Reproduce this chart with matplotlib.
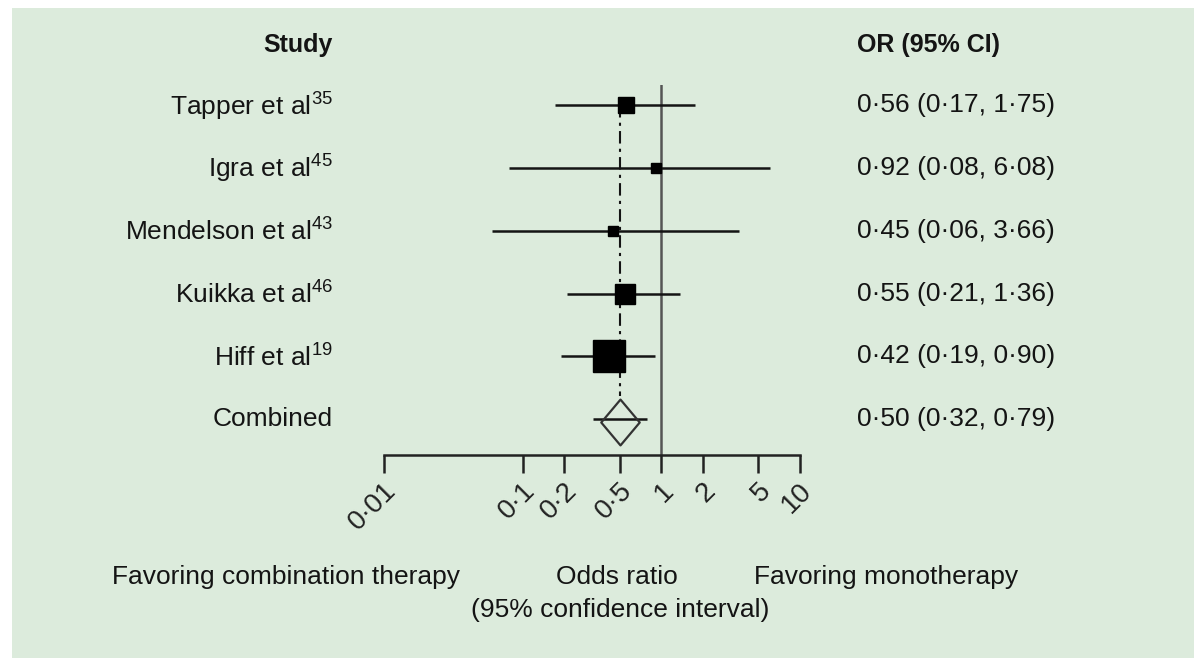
import numpy as np
import matplotlib
matplotlib.use('Agg')
import matplotlib.pyplot as plt
import matplotlib.transforms as mtransforms
from matplotlib.patches import Rectangle
from matplotlib.path import Path
from matplotlib.ticker import NullLocator

plt.rcParams['font.family'] = ['Liberation Sans', 'DejaVu Sans']
plt.rcParams['mathtext.fontset'] = 'custom'
plt.rcParams['mathtext.rm'] = 'Liberation Sans'

# 研究数据
studies = ['Tapper et al', 'Igra et al', 'Mendelson et al', 'Kuikka et al', 'Hiff et al', 'Combined']
refs = ['35', '45', '43', '46', '19', '']
odds = [0.56, 0.92, 0.45, 0.55, 0.42, 0.50]
ci_low = [0.17, 0.08, 0.06, 0.21, 0.19, 0.32]
ci_high = [1.75, 6.08, 3.66, 1.36, 0.90, 0.79]
tick_values = [0.01, 0.1, 0.2, 0.5, 1, 2, 5, 10]
tick_labels = ['0·01', '0·1', '0·2', '0·5', '1', '2', '5', '10']

# 方块大小 (pt)，按权重
box_sizes = [11.5, 6.5, 7.0, 14.5, 23.0]

W, H = 1194, 658
bg = '#dcebdc'
ink = '#141414'

fig = plt.figure(figsize=(W / 100, H / 100), dpi=100, facecolor='white')
fig.patches.append(Rectangle((12 / W, 0), 1 - 12 / W, 1 - 8 / H, transform=fig.transFigure,
                             facecolor=bg, edgecolor='none', zorder=-10))

ax = fig.add_axes([384 / W, 1 - 455 / H, 416 / W, 370 / H])
ax.set_facecolor('none')
ax.set_xscale('log')
ax.set_xlim(0.01, 10)
rows = np.arange(len(studies)) + 0.32
ax.set_ylim(5.89, 0)

for side in ['left', 'right', 'top']:
    ax.spines[side].set_visible(False)
ax.spines['bottom'].set_linewidth(1.8)
ax.spines['bottom'].set_color('#222222')
ax.set_yticks([])
ax.set_xticks(tick_values)
ax.xaxis.set_minor_locator(NullLocator())
ax.set_xticklabels(tick_labels, rotation=45, ha='right', va='center', rotation_mode='anchor')
ax.tick_params(axis='x', direction='out', length=13, width=1.8, pad=10, labelsize=20,
               colors='#222222')
# 刻度标签稍向右移
shift = mtransforms.ScaledTranslation(6 / 72, 0, fig.dpi_scale_trans)
for lab in ax.get_xticklabels():
    lab.set_transform(lab.get_transform() + shift)

# 无效线 OR = 1
ax.axvline(1, color='#555555', lw=1.8, zorder=1)
# 合并效应的点划线
ax.plot([odds[-1], odds[-1]], [rows[0], rows[-1] - 0.37], color=ink, lw=1.5,
        ls=(0, (6, 2.5, 1.5, 2.5)), zorder=1)

# 置信区间
ax.hlines(rows, ci_low, ci_high, color=ink, lw=1.8, zorder=2)
for o, r, s in zip(odds[:-1], rows[:-1], box_sizes):
    ax.plot(o, r, marker='s', ms=s, color='black', mec='black', zorder=3)

diamond = Path([(-0.84, 0), (0, 1), (0.84, 0), (0, -1), (-0.84, 0)],
               [Path.MOVETO, Path.LINETO, Path.LINETO, Path.LINETO, Path.CLOSEPOLY])
ax.plot(odds[-1], rows[-1] + 0.05, marker=diamond, ms=33, mfc='none', mec='#333333',
        mew=1.6, zorder=3)

# 左右两列文字
trans = mtransforms.blended_transform_factory(fig.transFigure, ax.transData)
for name, ref, o, lo, hi, r in zip(studies, refs, odds, ci_low, ci_high, rows):
    label = name if not ref else name + r'$^{\mathregular{' + ref + '}}$'
    ax.text(333 / W, r, label, transform=trans, ha='right', va='center', fontsize=19,
            color=ink, clip_on=False)
    txt = f'{o:.2f} ({lo:.2f}, {hi:.2f})'.replace('.', '·')
    ax.text(857 / W, r, txt, transform=trans, ha='left', va='center', fontsize=19,
            color=ink, clip_on=False)

fig.text(333 / W, 1 - 45 / H, 'Study', ha='right', va='center', fontsize=18,
         fontweight='bold', color=ink)
fig.text(857 / W, 1 - 45 / H, 'OR (95% CI)', ha='left', va='center', fontsize=18,
         fontweight='bold', color=ink)

fig.text(286 / W, 1 - 577 / H, 'Favoring combination therapy', ha='center', va='center',
         fontsize=19, color=ink)
fig.text(617 / W, 1 - 577 / H, 'Odds ratio', ha='center', va='center', fontsize=19, color=ink)
fig.text(620 / W, 1 - 610 / H, '(95% confidence interval)', ha='center', va='center',
         fontsize=19, color=ink)
fig.text(886 / W, 1 - 577 / H, 'Favoring monotherapy', ha='center', va='center',
         fontsize=19, color=ink)

fig.savefig('out.png', dpi=100, facecolor='white')
